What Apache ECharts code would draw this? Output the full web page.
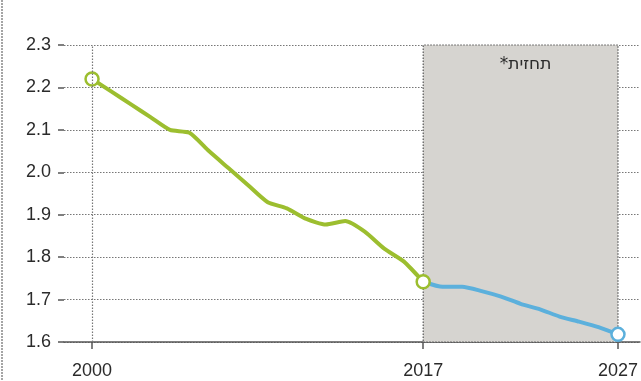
<!DOCTYPE html>
<html>
<head>
<meta charset="utf-8">
<script src="https://cdn.jsdelivr.net/npm/echarts@6/dist/echarts.min.js"></script>
<style>html,body{margin:0;padding:0;background:#fff}#c{width:641px;height:381px}</style>
</head>
<body>
<div id="c"></div>
<script>
const historyYears = [2000,2001,2002,2003,2004,2005,2006,2007,2008,2009,2010,2011,2012,2013,2014,2015,2016,2017];
const historyValues = [2.22,2.19,2.16,2.13,2.10,2.093,2.05,2.01,1.97,1.93,1.915,1.89,1.877,1.885,1.86,1.82,1.79,1.742];
const forecastYears = [2017,2018,2019,2020,2021,2022,2023,2024,2025,2026,2027];
const forecastValues = [1.742,1.73,1.73,1.72,1.707,1.69,1.677,1.66,1.648,1.635,1.618];
const xTickLabels = [2000,2017,2027];
const forecastLabel = '*תחזית';

const chart = echarts.init(document.getElementById('c'), null, {renderer:'canvas'});
const fontFamily = 'Liberation Sans, Arial, sans-serif';
chart.setOption({
  animation:false,
  grid:{left:64,right:0,top:45,bottom:39},
  graphic:[{
    type:'line', shape:{x1:2,y1:0,x2:2,y2:381},
    style:{stroke:'#888',lineWidth:1.5,lineDash:[2,1]}
  }],
  xAxis:{
    type:'value', min:1998.56, max:2028.13,
    axisLine:{show:true,lineStyle:{color:'#555',width:1.5}},
    axisTick:{show:true,customValues:xTickLabels,length:7,lineStyle:{color:'#555',width:1.5}},
    axisLabel:{customValues:xTickLabels,color:'#2b2b2b',fontSize:18,fontFamily:fontFamily,margin:20,formatter:v=>String(v)},
    splitLine:{show:false}
  },
  yAxis:{
    type:'value', min:1.6, max:2.3, interval:0.1,
    axisLine:{show:false},
    axisTick:{show:true,length:6,lineStyle:{color:'#555',width:1.5}},
    axisLabel:{color:'#2b2b2b',fontSize:18,fontFamily:fontFamily,margin:13,formatter:v=>v.toFixed(1)},
    splitLine:{show:true,lineStyle:{color:'#777',type:[1.5,1.5],width:1.2}}
  },
  series:[
    {
      type:'line',
      data:forecastYears.map((y,i)=>[y,forecastValues[i]]),
      lineStyle:{color:'#5cb0dc',width:4},
      itemStyle:{color:'#fff',borderColor:'#5cb0dc',borderWidth:2.5},
      symbol:(v,p)=>(p.dataIndex===forecastYears.length-1)?'circle':'none',
      symbolSize:13,
      showSymbol:true,
      smooth:0.2,
      z:3,
      markArea:{
        silent:true,
        itemStyle:{color:'#d6d4d0',borderColor:'#555',borderWidth:1.2,borderType:[1.5,1.5]},
        label:{show:true,position:'insideTop',distance:12,offset:[5,0],formatter:forecastLabel,color:'#2b2b2b',fontSize:17,fontFamily:'DejaVu Sans, Noto Sans, sans-serif'},
        data:[[{xAxis:2017,yAxis:1.6},{xAxis:2027,yAxis:2.3}]]
      },
      markLine:{
        silent:true, symbol:'none', label:{show:false},
        lineStyle:{color:'#777',type:[1.5,1.5],width:1.2},
        data:[[{coord:[2000,1.6]},{coord:[2000,2.3]}]]
      }
    },
    {
      type:'line',
      data:historyYears.map((y,i)=>[y,historyValues[i]]),
      lineStyle:{color:'#9cbe2f',width:4},
      itemStyle:{color:'#fff',borderColor:'#9cbe2f',borderWidth:2.5},
      symbol:(v,p)=> (p.dataIndex===0||p.dataIndex===historyYears.length-1)?'circle':'none',
      symbolSize:13,
      showSymbol:true,
      smooth:0.2,
      z:4
    }
  ]
});
</script>
</body>
</html>
